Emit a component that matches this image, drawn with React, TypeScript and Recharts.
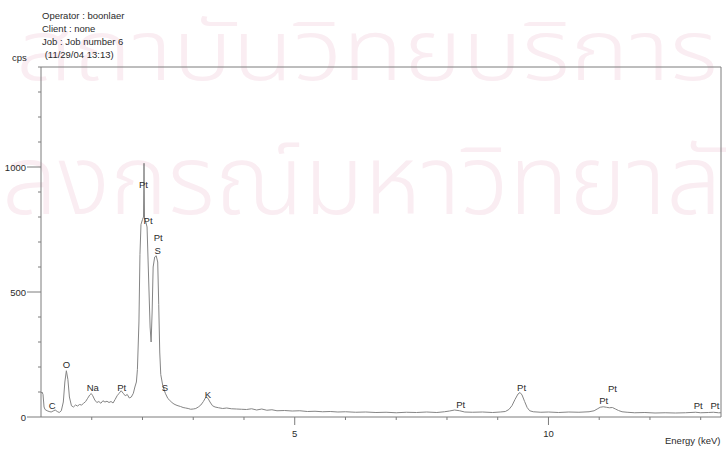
import { Line, LineChart, ReferenceDot, ReferenceLine, XAxis, YAxis } from "recharts";

// spectrum (keV / counts per second)
const energy = [
  0.0, 0.02, 0.04, 0.06, 0.08, 0.12, 0.16, 0.2, 0.24, 0.28, 0.32, 0.36, 0.4, 0.44, 0.47, 0.5, 0.53, 0.56,
  0.6, 0.64, 0.68, 0.72, 0.76, 0.8, 0.84, 0.88, 0.92, 0.96, 0.99, 1.02, 1.06, 1.1, 1.14, 1.18, 1.22, 1.26,
  1.3, 1.34, 1.38, 1.42, 1.46, 1.5, 1.54, 1.58, 1.62, 1.66, 1.7, 1.74, 1.78, 1.82, 1.85, 1.88, 1.9, 1.93,
  1.95, 1.97, 2.0, 2.02, 2.03, 2.04, 2.06, 2.09, 2.12, 2.15, 2.17, 2.19, 2.21, 2.24, 2.27, 2.3, 2.32, 2.34,
  2.36, 2.4, 2.45, 2.5, 2.54, 2.58, 2.62, 2.66, 2.7, 2.75, 2.8, 2.85, 2.9, 2.95, 3.0, 3.05, 3.1, 3.15, 3.2,
  3.25, 3.29, 3.33, 3.38, 3.43, 3.5, 3.58, 3.66, 3.75, 3.85, 3.95, 4.05, 4.15, 4.25, 4.35, 4.45, 4.55, 4.65,
  4.8, 4.95, 5.1, 5.25, 5.4, 5.55, 5.7, 5.85, 6.0, 6.2, 6.4, 6.6, 6.8, 7.0, 7.2, 7.4, 7.6, 7.8, 7.95, 8.05,
  8.15, 8.25, 8.35, 8.5, 8.7, 8.9, 9.05, 9.15, 9.22, 9.28, 9.34, 9.4, 9.44, 9.48, 9.53, 9.58, 9.63, 9.7,
  9.85, 10.0, 10.2, 10.4, 10.6, 10.8, 10.9, 10.96, 11.02, 11.08, 11.14, 11.2, 11.26, 11.32, 11.38, 11.45,
  11.55, 11.7, 11.9, 12.1, 12.3, 12.5, 12.7, 12.9, 13.0, 13.15, 13.25, 13.35, 13.4,
];
const counts = [
  95, 100, 90, 40, 30, 25, 22, 20, 24, 28, 22, 18, 25, 60, 140, 185, 150, 80,
  45, 40, 48, 44, 50, 48, 55, 62, 75, 88, 94, 85, 68, 58, 62, 55, 65, 60,
  63, 58, 62, 56, 70, 85, 95, 105, 95, 85, 90, 76, 80, 95, 120, 140, 190, 380,
  650, 770, 790, 800, 1015, 795, 785, 760, 560, 360, 300, 420, 600, 640, 645, 620, 450, 260,
  170, 125, 95, 74, 66, 58, 52, 48, 45, 42, 38, 36, 34, 31, 32, 34, 40, 48, 62,
  80, 75, 60, 45, 40, 37, 34, 36, 33, 32, 31, 30, 33, 28, 32, 27, 29, 25,
  26, 24, 25, 22, 23, 21, 22, 20, 21, 19, 20, 18, 19, 17, 19, 18, 20, 18, 21, 24,
  28, 25, 20, 19, 20, 18, 20, 22, 30, 45, 70, 92, 98, 88, 62, 38, 25, 21,
  19, 20, 18, 20, 19, 21, 25, 32, 39, 41, 39, 37, 38, 32, 26, 21,
  19, 17, 18, 16, 17, 16, 17, 19, 17, 18, 19, 17, 17,
];

// peak identifications, anchored in data units
const peakNames = ["C", "O", "Na", "Pt", "Pt", "Pt", "Pt", "S", "S", "K", "Pt", "Pt", "Pt", "Pt", "Pt", "Pt"];
const peakEnergy = [0.22, 0.5, 1.02, 1.59, 2.02, 2.11, 2.31, 2.3, 2.44, 3.29, 8.27, 9.47, 11.26, 11.09, 12.95, 13.28];
const peakLabelCps = [44, 209, 118, 118, 929, 787, 719, 667, 116, 88, 48, 119, 112, 65, 44, 44];

const xTicks = [1, 2, 3, 4, 5, 6, 7, 8, 9, 10, 11, 12, 13];
const xLabelled = [5, 10];
const yTicks = [0, 100, 200, 300, 400, 500, 600, 700, 800, 900, 1000, 1100, 1200, 1300, 1400];
const yLabelled = [0, 500, 1000];

const headerLines = ["Operator : boonlaer", "Client : none", "Job : Job number 6", " (11/29/04 13:13)"];
const watermarkLines = ["สถาบันวิทยบริการ", "ลงกรณ์มหาวิทยาลั"];

const ink = "#2b2b2b";
const axisGrey = "#7c7c7c";
const font = "'Liberation Sans', Arial, sans-serif";
const thaiFont = "'Noto Sans Thai', Loma, Garuda, sans-serif";
const watermarkPink = "#faedf2";

const rows = energy.map((e, i) => ({ keV: e, cps: counts[i] }));

function EnergyTick({ x, y, payload }: any) {
  const major = xLabelled.includes(payload.value);
  return (
    <g>
      <line x1={x} x2={x} y1={y} y2={y + (major ? 8 : 3)} stroke={axisGrey} />
      {major && (
        <text x={x} y={y + 16} textAnchor="middle" dominantBaseline="central" fontSize={9.5} fill={ink} fontFamily={font}>
          {payload.value}
        </text>
      )}
    </g>
  );
}

function CpsTick({ x, y, payload }: any) {
  const major = yLabelled.includes(payload.value);
  return (
    <g>
      <line x1={x - (major ? 14 : 3)} x2={x} y1={y} y2={y} stroke={axisGrey} />
      {major && (
        <text x={x - 15} y={y} textAnchor="end" dominantBaseline="central" fontSize={9.5} fill={ink} fontFamily={font}>
          {payload.value}
        </text>
      )}
    </g>
  );
}

export default function App() {
  return (
    <div style={{ position: "absolute", left: 0, top: 0, width: 726, height: 453, background: "#fff", overflow: "hidden" }}>
      {/* scanner watermark behind the plot */}
      <svg width={726} height={453} style={{ position: "absolute", left: 0, top: 0 }}>
        <text x={16} y={80} fontSize={84} fontWeight={300} fill={watermarkPink} textLength={702} lengthAdjust="spacingAndGlyphs" fontFamily={thaiFont}>
          {watermarkLines[0]}
        </text>
        <text x={2} y={214} fontSize={96} fontWeight={300} fill={watermarkPink} textLength={720} lengthAdjust="spacingAndGlyphs" fontFamily={thaiFont}>
          {watermarkLines[1]}
        </text>
      </svg>

      <div style={{ position: "absolute", left: 42, top: 9, fontFamily: font, fontSize: 9.5, color: ink, lineHeight: "13px", whiteSpace: "pre" }}>
        {headerLines.map((t) => (
          <div key={t}>{t}</div>
        ))}
      </div>
      <div style={{ position: "absolute", left: 12, top: 52, fontFamily: font, fontSize: 9.5, color: ink }}>cps</div>
      <div style={{ position: "absolute", left: 665, top: 435, fontFamily: font, fontSize: 9.5, color: ink }}>Energy (keV)</div>

      <div style={{ position: "absolute", left: 0, top: 0 }}>
        <LineChart width={726} height={453} data={rows} margin={{ top: 67, right: 5, left: 0, bottom: 0 }}>
          <XAxis
            dataKey="keV"
            type="number"
            domain={[0, 13.4]}
            ticks={xTicks}
            allowDataOverflow
            height={36}
            stroke={axisGrey}
            tickLine={false}
            tickSize={0}
            tickMargin={0}
            tick={<EnergyTick />}
            interval={0}
          />
          <YAxis
            type="number"
            domain={[0, 1400]}
            ticks={yTicks}
            width={41}
            stroke={axisGrey}
            tickLine={false}
            tickSize={0}
            tickMargin={0}
            tick={<CpsTick />}
            interval={0}
          />
          <ReferenceLine y={1400} stroke={axisGrey} />
          <ReferenceLine x={13.4} stroke={axisGrey} />
          <Line type="linear" dataKey="cps" stroke="#858585" strokeWidth={1} dot={false} isAnimationActive={false} />
          {peakNames.map((name, i) => (
            <ReferenceDot
              key={i}
              x={peakEnergy[i]}
              y={peakLabelCps[i]}
              r={0}
              fill="none"
              stroke="none"
              label={{ value: name, position: "center", fill: ink, fontSize: 9.5, fontFamily: font }}
            />
          ))}
        </LineChart>
      </div>
    </div>
  );
}
